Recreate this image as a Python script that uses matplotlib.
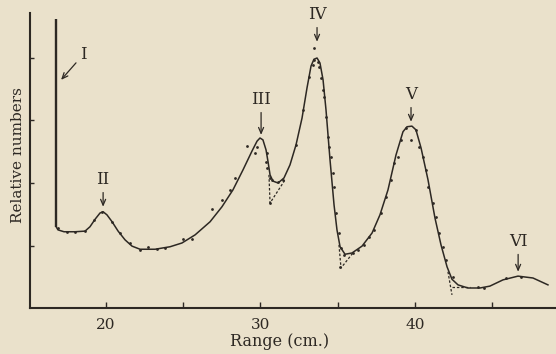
import matplotlib
matplotlib.use("Agg")
import matplotlib.pyplot as plt

# ---- data ----
# continuous curve (range in cm, relative numbers)
curve_x = [16.79, 16.79, 16.91, 17.30, 18.01, 18.66, 18.98, 19.31, 19.63, 19.83, 20.08,
           20.41, 20.80, 21.25, 21.70, 22.22, 23.19, 24.16, 24.93, 25.78, 26.75, 27.52,
           28.23, 28.88, 29.46, 29.79, 29.98, 30.17, 30.37, 30.50, 30.63, 30.82, 31.15,
           31.53, 31.92, 32.31, 32.70, 33.02, 33.28, 33.47, 33.67, 33.86, 34.06, 34.25,
           34.51, 34.77, 34.96, 35.16, 35.48, 35.93, 36.58, 37.23, 37.74, 38.26, 38.78,
           39.23, 39.49, 39.81, 40.07, 40.40, 40.85, 41.30, 41.69, 42.08, 42.40, 42.79,
           43.43, 44.21, 44.85, 45.70, 46.67, 47.64, 48.61]
curve_y = [4.62, 1.30, 1.25, 1.22, 1.22, 1.23, 1.30, 1.42, 1.52, 1.54, 1.49,
           1.38, 1.23, 1.09, 0.99, 0.94, 0.94, 0.98, 1.04, 1.17, 1.38, 1.62,
           1.89, 2.21, 2.51, 2.67, 2.72, 2.69, 2.53, 2.34, 2.13, 2.03, 2.00,
           2.08, 2.29, 2.61, 3.04, 3.52, 3.87, 3.98, 4.00, 3.92, 3.65, 3.17,
           2.37, 1.65, 1.25, 0.98, 0.86, 0.88, 0.99, 1.20, 1.49, 1.89, 2.45,
           2.82, 2.90, 2.91, 2.85, 2.56, 2.05, 1.44, 1.01, 0.66, 0.46, 0.37,
           0.32, 0.32, 0.35, 0.45, 0.51, 0.48, 0.37]

# observed points (dots)
obs_x = [16.91, 17.50, 18.01, 18.66, 19.24, 19.76, 20.41, 20.92, 21.57, 22.22, 22.74,
         23.32, 23.84, 25.00, 25.58, 26.88, 27.52, 28.04, 28.36, 29.14, 29.66, 29.79,
         30.43, 30.37, 30.43, 30.63, 30.76, 31.15, 31.47, 32.31, 30.63,
         32.76, 33.15, 33.41, 33.47, 33.73, 33.80, 33.93, 34.06, 34.12, 34.25, 34.38,
         34.44, 34.57, 34.70, 34.77, 34.90, 35.09, 35.22, 35.41, 35.99, 36.32, 36.71,
         37.03, 37.35, 37.81, 38.13, 38.45, 38.65, 38.91, 39.10, 39.42, 39.75, 40.07,
         40.27, 40.52, 40.72, 40.85, 41.17, 41.36, 41.56, 41.82, 42.01, 42.46, 44.08,
         44.47, 45.89, 46.86, 35.16, 33.47]
obs_y = [1.28, 1.22, 1.22, 1.23, 1.41, 1.54, 1.38, 1.20, 1.04, 0.93, 0.98,
         0.94, 0.96, 1.10, 1.10, 1.58, 1.73, 1.89, 2.08, 2.59, 2.48, 2.58,
         2.48, 2.34, 2.24, 2.08, 2.05, 2.02, 2.05, 2.61, 1.68,
         3.17, 3.70, 3.89, 3.97, 3.94, 3.86, 3.68, 3.49, 3.38, 3.06, 2.74,
         2.58, 2.42, 2.16, 1.94, 1.52, 1.20, 0.96, 0.85, 0.88, 0.93, 1.01,
         1.14, 1.25, 1.52, 1.78, 2.05, 2.32, 2.42, 2.69, 2.88, 2.69, 2.85,
         2.58, 2.42, 2.21, 1.94, 1.68, 1.46, 1.20, 0.98, 0.77, 0.50, 0.34,
         0.32, 0.48, 0.50, 0.66, 4.16]

# dashed extrapolations below the minima
dash1_x = [30.56, 30.63, 31.60]
dash1_y = [2.13, 1.68, 2.05]
dash2_x = [35.09, 35.22, 35.99]
dash2_y = [1.01, 0.64, 0.88]
dash3_x = [42.14, 42.40]
dash3_y = [0.58, 0.21]
dash4_x = [42.40, 43.56]
dash4_y = [0.34, 0.34]

# peak labels: (label, text x, text y, arrow tip x, arrow tip y)
peak_names = ["I", "II", "III", "IV", "V", "VI"]
peak_text_x = [18.53, 19.83, 30.05, 33.67, 39.75, 46.68]
peak_text_y = [4.05, 2.05, 3.33, 4.69, 3.41, 1.06]
peak_tip_x = [17.11, 19.83, 30.05, 33.67, 39.75, 46.68]
peak_tip_y = [3.65, 1.62, 2.77, 4.26, 2.98, 0.58]

xticks = [20, 25, 30, 35, 40, 45]
xtick_labels = ["20", "", "30", "", "40", ""]
yticks = [1, 2, 3, 4]

ink = "#2d2823"
paper = "#EAE1CB"

plt.rcParams["font.family"] = ["DejaVu Serif"]

fig = plt.figure(figsize=(5.56, 3.54), dpi=100, facecolor=paper)
ax = fig.add_axes([30 / 556, 46 / 354, 526 / 556, 295 / 354])
ax.set_facecolor(paper)

ax.plot(curve_x[:2], curve_y[:2], color=ink, lw=1.7, solid_capstyle="butt")
ax.plot(curve_x[1:], curve_y[1:], color=ink, lw=1.1)
ax.plot(obs_x, obs_y, "o", color=ink, ms=2.0, mew=0)
for dx, dy in [(dash1_x, dash1_y), (dash2_x, dash2_y), (dash3_x, dash3_y), (dash4_x, dash4_y)]:
    ax.plot(dx, dy, color=ink, lw=0.9, ls=(0, (2, 1.5)))

for name, tx, ty, px, py in zip(peak_names, peak_text_x, peak_text_y, peak_tip_x, peak_tip_y):
    ax.annotate(name, xy=(px, py), xytext=(tx, ty), ha="center", va="center",
                fontsize=12, color=ink, annotation_clip=False,
                arrowprops=dict(arrowstyle="->,head_length=0.35,head_width=0.15",
                                color=ink, lw=0.9, shrinkA=1, shrinkB=0))

ax.set_xlim(15.1, 49.13)
ax.set_ylim(0, 4.72)
for s in ["top", "right"]:
    ax.spines[s].set_visible(False)
for s in ["left", "bottom"]:
    ax.spines[s].set_color(ink)
    ax.spines[s].set_linewidth(1.5)

ax.set_xticks(xticks)
ax.set_xticklabels(xtick_labels)
ax.set_yticks(yticks)
ax.set_yticklabels([])
ax.tick_params(axis="x", direction="in", length=4, width=1, colors=ink, labelsize=11, pad=7)
ax.tick_params(axis="y", direction="in", length=3, width=1, colors=ink)

ax.set_xlabel("Range (cm.)", fontsize=11.5, color=ink)
ax.xaxis.set_label_coords(0.475, -0.085)
ax.set_ylabel("Relative numbers", fontsize=11, color=ink)
ax.yaxis.set_label_coords(-0.009, 0.52)

fig.savefig("out.png", dpi=100, facecolor=paper)
